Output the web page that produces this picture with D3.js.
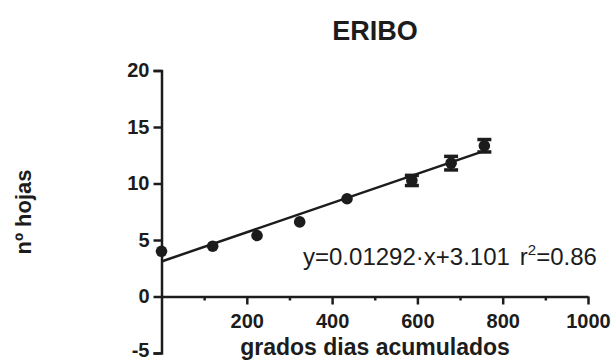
<!DOCTYPE html>
<html>
<head>
<meta charset="utf-8">
<script src="https://cdn.jsdelivr.net/npm/d3@7"></script>
<style>
body{margin:0;background:#fff;}
svg{display:block;font-family:"Liberation Sans",Arial,sans-serif;}
</style>
</head>
<body>
<svg id="chart" width="613" height="362"></svg>
<script>
const xValues = [0, 120, 224, 324, 435, 587, 679, 757];
const yValues = [4.0, 4.45, 5.4, 6.6, 8.65, 10.27, 11.8, 13.34];
const yErrors = [0, 0, 0, 0, 0, 0.45, 0.6, 0.55];
const xMajorTicks = [200, 400, 600, 800, 1000];
const xMinorTicks = [100, 300, 500, 700, 900];
const yTicks = [-5, 0, 5, 10, 15, 20];
const fitSlope = 0.01292, fitIntercept = 3.101;
const titleText = "ERIBO";
const xTitle = "grados dias acumulados";
const yTitle = "nº hojas";

const col = "#1c1c1c";
const fmt = d => String(d);
const svg = d3.select("#chart");
const x = d3.scaleLinear().domain([0, 1000]).range([161.5, 588]);
const y = d3.scaleLinear().domain([-5, 20]).range([353, 70.5]);

// Y axis
const yAxis = d3.axisLeft(y).tickValues(yTicks).tickSize(8).tickPadding(4).tickFormat(fmt);
const gy = svg.append("g").attr("transform", `translate(${x(0)},0)`).call(yAxis);
gy.select(".domain").attr("stroke", col).attr("stroke-width", 2.5);
gy.selectAll(".tick line").attr("stroke", col).attr("stroke-width", 2.5);
gy.selectAll(".tick text").attr("fill", col).attr("font-size", 20).attr("font-weight", "bold")
  .attr("font-family", "'Liberation Sans',Arial,sans-serif");
gy.selectAll(".tick text").filter(d => d === -5).attr("y", -3);

// X axis (at y=0)
const xAxis = d3.axisBottom(x).tickValues(xMajorTicks).tickSize(8).tickPadding(9).tickSizeOuter(0).tickFormat(fmt);
const gx = svg.append("g").attr("transform", `translate(0,${y(0)})`).call(xAxis);
gx.select(".domain").attr("stroke", col).attr("stroke-width", 2.5);
gx.selectAll(".tick line").attr("stroke", col).attr("stroke-width", 2.5);
gx.selectAll(".tick text").attr("fill", col).attr("font-size", 20).attr("font-weight", "bold")
  .attr("font-family", "'Liberation Sans',Arial,sans-serif");
const xMinor = d3.axisBottom(x).tickValues(xMinorTicks).tickSize(4).tickFormat("");
const gxm = svg.append("g").attr("transform", `translate(0,${y(0)})`).call(xMinor);
gxm.select(".domain").remove();
gxm.selectAll(".tick line").attr("stroke", col).attr("stroke-width", 2.5);

// Regression line over data range
const xmin = d3.min(xValues), xmax = d3.max(xValues);
svg.append("line")
  .attr("x1", x(xmin)).attr("y1", y(fitSlope * xmin + fitIntercept))
  .attr("x2", x(xmax)).attr("y2", y(fitSlope * xmax + fitIntercept))
  .attr("stroke", col).attr("stroke-width", 2.5);

// Error bars (only where longer than the symbol)
const data = xValues.map((d, i) => ({x: d, y: yValues[i], e: yErrors[i]}));
const eb = svg.append("g");
data.filter(d => d.e > 0).forEach(d => {
  eb.append("line").attr("x1", x(d.x)).attr("x2", x(d.x))
    .attr("y1", y(d.y - d.e)).attr("y2", y(d.y + d.e)).attr("stroke", col).attr("stroke-width", 3);
  [d.y - d.e, d.y + d.e].forEach(v => {
    eb.append("line").attr("x1", x(d.x) - 7).attr("x2", x(d.x) + 7)
      .attr("y1", y(v)).attr("y2", y(v)).attr("stroke", col).attr("stroke-width", 3.5);
  });
});

// Points
svg.append("g").selectAll("circle").data(data).join("circle")
  .attr("cx", d => x(d.x)).attr("cy", d => y(d.y)).attr("r", 5.8).attr("fill", col);

// Equation
const eq = svg.append("text").attr("x", 303).attr("y", 265).attr("font-size", 24).attr("fill", col);
eq.append("tspan").text(`y=${fitSlope}·x+${fitIntercept}`);
eq.append("tspan").attr("dx", 10).text("r");
eq.append("tspan").attr("font-size", 15).attr("dy", -10).text("2");
eq.append("tspan").attr("dy", 10).text("=0.86");

// Titles
svg.append("text").attr("x", 375).attr("y", 40).attr("text-anchor", "middle")
  .attr("font-size", 27).attr("font-weight", "bold").attr("fill", col).text(titleText);
svg.append("text").attr("x", 375).attr("y", 355).attr("text-anchor", "middle")
  .attr("font-size", 23).attr("font-weight", "bold").attr("fill", col).text(xTitle);
svg.append("text").attr("transform", "translate(31,212) rotate(-90)").attr("text-anchor", "middle")
  .attr("font-size", 22).attr("font-weight", "bold").attr("fill", col).text(yTitle);
</script>
</body>
</html>
